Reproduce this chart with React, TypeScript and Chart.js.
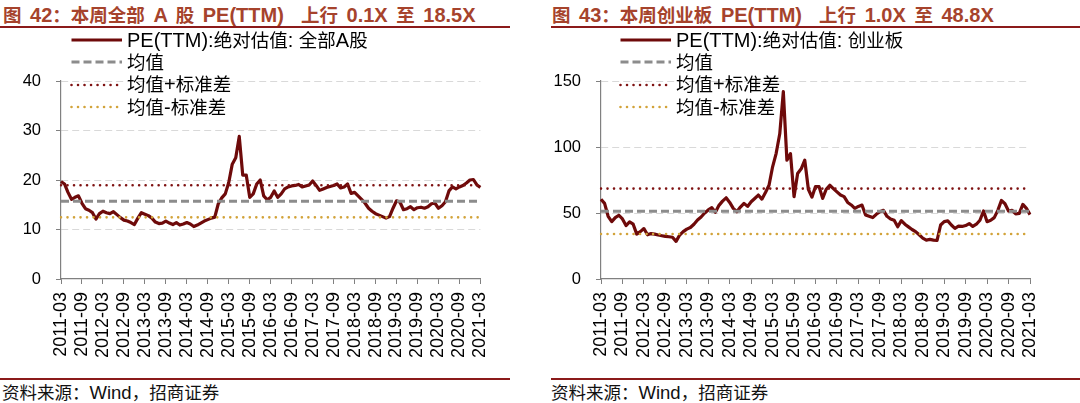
import React, { useEffect, useRef } from "react";
import { Chart, registerables } from "chart.js";

Chart.register(...registerables);

// ---------- categories (monthly, 2011-03 .. 2021-03) ----------
const START_YEAR = 2011;
const START_MONTH = 3;
const N_MONTHS = 121;
const monthLabels: string[] = Array.from({ length: N_MONTHS }, (_, i) => {
  const t = START_MONTH - 1 + i;
  const y = START_YEAR + Math.floor(t / 12);
  const m = (t % 12) + 1;
  return `${y}-${String(m).padStart(2, "0")}`;
});

const tickLabels: string[] = [
  "2011-03", "2011-09", "2012-03", "2012-09", "2013-03", "2013-09", "2014-03",
  "2014-09", "2015-03", "2015-09", "2016-03", "2016-09", "2017-03", "2017-09",
  "2018-03", "2018-09", "2019-03", "2019-09", "2020-03", "2020-09", "2021-03",
];

// ---------- 全部A股 PE(TTM) ----------
const peAllA: number[] = [
  19.7, 19.2, 17.5, 16.1, 16.5, 16.8, 15.3, 14.2, 13.9, 13.4,
  12.1, 13.2, 13.7, 13.4, 13.2, 13.6, 13.0, 12.4, 11.9, 11.7,
  11.4, 11.0, 12.3, 13.4, 13.1, 12.8, 12.3, 11.5, 11.2, 11.3,
  11.7, 11.3, 11.0, 11.4, 10.9, 11.1, 11.4, 11.1, 10.6, 10.9,
  11.3, 11.7, 12.0, 12.3, 12.5, 15.2, 16.4, 17.2, 19.5, 23.2,
  24.5, 28.8, 21.0, 21.0, 16.5, 17.2, 19.2, 20.0, 16.8, 16.0,
  16.5, 17.8, 16.5, 17.2, 18.2, 18.6, 18.8, 18.9, 19.1, 18.6,
  18.8, 19.0, 19.8, 18.9, 17.9, 18.2, 18.5, 18.7, 18.9, 19.2,
  18.4, 18.6, 19.2, 17.3, 17.5, 16.8, 16.1, 15.3, 14.3, 13.7,
  13.2, 12.9, 12.6, 12.3, 12.6, 14.3, 15.8, 15.5, 14.0, 14.2,
  14.6, 14.0, 14.4, 14.5, 14.3, 14.6, 15.2, 15.3, 14.3, 14.8,
  15.6, 17.8, 18.6, 18.2, 18.6, 18.9, 19.4, 20.0, 20.1, 19.0,
  18.5,
];
const meanAllA = 15.7;
const upperAllA = 18.95;
const lowerAllA = 12.45;

// ---------- 创业板 PE(TTM) ----------
const peGem: number[] = [
  60.4, 57.3, 47.5, 43.5, 46.5, 48.3, 45.5, 40.5, 43.2, 41.5,
  34.0, 35.9, 38.2, 33.5, 34.4, 34.0, 33.3, 32.8, 32.3, 32.0,
  31.6, 28.5, 33.3, 35.9, 37.8, 39.0, 41.5, 44.7, 47.0, 50.0,
  52.3, 54.0, 50.5, 55.8, 59.0, 61.5, 58.0, 53.5, 51.0, 54.5,
  57.3, 55.0, 58.5, 61.0, 63.6, 60.5, 65.5, 71.0, 85.0, 95.2,
  110.0, 142.0, 90.0, 95.0, 62.4, 80.0, 83.5, 90.0, 68.0, 62.0,
  70.0, 70.0, 61.1, 68.0, 71.0, 68.5, 66.0, 63.6, 62.4, 58.0,
  56.1, 53.5, 55.0, 56.0, 48.5, 47.5, 46.5, 49.0, 51.0, 52.0,
  47.5, 45.5, 44.5, 39.6, 44.2, 41.5, 39.5, 37.5, 35.9, 33.5,
  31.0, 29.5, 30.0, 29.5, 29.2, 40.9, 43.5, 44.0, 40.9, 38.4,
  40.0, 39.8, 40.5, 42.0, 39.8, 41.5, 44.5, 51.5, 43.4, 44.5,
  46.5, 52.0, 59.5, 57.0, 51.5, 52.0, 49.3, 49.7, 56.5, 53.5,
  48.8,
];
const meanGem = 51.3;
const upperGem = 68.5;
const lowerGem = 34.1;

// ---------- styles ----------
const PE_COLOR = "#6E0A0A";
const MEAN_COLOR = "#8C8C8C";
const UPPER_COLOR = "#7F1313";
const LOWER_COLOR = "#D2A33A";
const AXIS_COLOR = "#808080";
const GRID_COLOR = "#D9D9D9";
const TITLE_COLOR = "#A6432C";
const RULE_COLOR = "#8B1A1A";
const LATIN = "'Liberation Sans', Arial";
const CJK = "'Noto Sans CJK SC'";
const FONT = `${LATIN}, ${CJK}, sans-serif`;

type ChartProps = {
  left: number;
  width: number;
  padRight: number;
  values: number[];
  mean: number;
  upper: number;
  lower: number;
  yMax: number;
  yStep: number;
};

function PEChart(p: ChartProps) {
  const ref = useRef<HTMLCanvasElement | null>(null);
  useEffect(() => {
    if (!ref.current) return;
    const flat = (v: number) => monthLabels.map(() => v);
    const isTick = (i: number) => tickLabels.includes(monthLabels[i]);
    const chart = new Chart(ref.current, {
      type: "line",
      data: {
        labels: monthLabels,
        datasets: [
          {
            label: "PE",
            data: p.values,
            borderColor: PE_COLOR,
            borderWidth: 3.2,
            pointRadius: 0,
            borderJoinStyle: "round",
            tension: 0,
            order: 5,
          },
          {
            label: "mean",
            data: flat(p.mean),
            borderColor: MEAN_COLOR,
            borderWidth: 3,
            borderDash: [8, 4],
            pointRadius: 0,
            order: 3,
          },
          {
            label: "upper",
            data: flat(p.upper),
            borderColor: UPPER_COLOR,
            borderWidth: 2.6,
            borderDash: [0.01, 6.5],
            borderCapStyle: "round",
            pointRadius: 0,
            order: 2,
          },
          {
            label: "lower",
            data: flat(p.lower),
            borderColor: LOWER_COLOR,
            borderWidth: 2.6,
            borderDash: [0.01, 6.5],
            borderCapStyle: "round",
            pointRadius: 0,
            order: 1,
          },
        ],
      },
      options: {
        responsive: false,
        maintainAspectRatio: false,
        animation: false,
        events: [],
        layout: { padding: { top: 53, right: p.padRight, left: 0, bottom: 0 } },
        plugins: { legend: { display: false }, tooltip: { enabled: false } },
        scales: {
          x: {
            type: "category",
            offset: false,
            grid: {
              display: true,
              drawOnChartArea: false,
              drawTicks: true,
              tickLength: 5,
              tickColor: (ctx: any) => (isTick(ctx.index) ? AXIS_COLOR : "rgba(0,0,0,0)"),
              tickBorderDash: [],
            },
            border: { display: true, color: AXIS_COLOR, width: 1.2 },
            ticks: {
              autoSkip: false,
              maxRotation: 90,
              minRotation: 90,
              padding: 8,
              color: "#000",
              font: { family: LATIN, size: 18 },
              callback: (_v: any, i: number) => (isTick(i) ? monthLabels[i] : ""),
            },
            afterFit: (s: any) => {
              s.height = 96;
            },
          },
          y: {
            min: 0,
            max: p.yMax,
            ticks: {
              stepSize: p.yStep,
              padding: 15,
              color: "#000",
              font: { family: LATIN, size: 16.5 },
            },
            grid: {
              color: (ctx: any) => (ctx.tick && ctx.tick.value === 0 ? "rgba(0,0,0,0)" : GRID_COLOR),
              lineWidth: 1,
              tickLength: 5,
              tickColor: AXIS_COLOR,
              tickBorderDash: [],
            },
            border: { display: true, color: AXIS_COLOR, width: 1.2, dash: [7, 4] },
            afterFit: (s: any) => {
              s.width = 61;
            },
          },
        },
      },
    } as any);
    return () => chart.destroy();
  }, []);
  return (
    <canvas
      ref={ref}
      width={p.width}
      height={347}
      style={{ position: "absolute", left: p.left, top: 28, width: p.width, height: 347 }}
    />
  );
}

// split text into Latin / CJK runs so each can use its own size
function Mixed({ text, latin, cjk, bold }: { text: string; latin: number; cjk: number; bold?: boolean }) {
  const parts = text.split(/([\u3000-\u9fff\uff00-\uffef]+)/).filter((s) => s.length > 0);
  return (
    <>
      {parts.map((s, i) => {
        const isCjk = /[\u3000-\u9fff\uff00-\uffef]/.test(s);
        return (
          <span
            key={i}
            style={{
              fontFamily: isCjk ? `${CJK}, sans-serif` : `${LATIN}, sans-serif`,
              fontSize: isCjk ? cjk : latin,
              fontWeight: bold ? 700 : 400,
            }}
          >
            {s}
          </span>
        );
      })}
    </>
  );
}

function Legend({ x, label }: { x: number; label: string }) {
  const rows = [
    { text: label, color: PE_COLOR, w: 3.2, dash: "", cap: "butt" },
    { text: "均值", color: MEAN_COLOR, w: 3, dash: "8 4", cap: "butt" },
    { text: "均值+标准差", color: UPPER_COLOR, w: 2.6, dash: "0.01 6.5", cap: "round" },
    { text: "均值-标准差", color: LOWER_COLOR, w: 2.6, dash: "0.01 6.5", cap: "round" },
  ];
  return (
    <>
      {rows.map((r, i) => (
        <div
          key={i}
          style={{
            position: "absolute",
            left: x,
            top: 40 + i * 22.4 - 12,
            height: 24,
            display: "flex",
            alignItems: "center",
            whiteSpace: "nowrap",
            color: "#000",
            lineHeight: "24px",
          }}
        >
          <svg width={53} height={6} style={{ display: "block" }}>
            <line
              x1={1.5}
              y1={3}
              x2={52}
              y2={3}
              stroke={r.color}
              strokeWidth={r.w}
              strokeDasharray={r.dash || undefined}
              strokeLinecap={r.cap as any}
            />
          </svg>
          <span style={{ marginLeft: 4 }}>
            <Mixed text={r.text} latin={20} cjk={18.5} />
          </span>
        </div>
      ))}
    </>
  );
}

function Panel(props: {
  offset: number;
  ruleLeft: number;
  ruleWidth: number;
  title: string;
  legendLabel: string;
  chart: ChartProps;
}) {
  const { offset, ruleLeft, ruleWidth, title, legendLabel, chart } = props;
  return (
    <>
      <div
        style={{
          position: "absolute",
          left: offset + 3,
          top: 2,
          height: 24,
          lineHeight: "24px",
          color: TITLE_COLOR,
          whiteSpace: "pre",
          wordSpacing: 3,
        }}
      >
        <Mixed text={title} latin={20} cjk={18.5} bold />
      </div>
      <div style={{ position: "absolute", left: ruleLeft, top: 26, width: ruleWidth, height: 2, background: RULE_COLOR }} />
      <PEChart {...chart} />
      <Legend x={offset + 70} label={legendLabel} />
      <div style={{ position: "absolute", left: ruleLeft, top: 378, width: ruleWidth, height: 2, background: RULE_COLOR }} />
      <div
        style={{
          position: "absolute",
          left: offset + 2,
          top: 381,
          height: 22,
          lineHeight: "22px",
          color: "#111",
          whiteSpace: "pre",
        }}
      >
        <Mixed text="资料来源：Wind，招商证券" latin={18.5} cjk={17.5} />
      </div>
    </>
  );
}

export default function App() {
  return (
    <div
      style={{
        position: "absolute",
        left: 0,
        top: 0,
        width: 1080,
        height: 403,
        background: "#fff",
        overflow: "hidden",
        fontFamily: FONT,
      }}
    >
      <Panel
        offset={0}
        ruleLeft={0}
        ruleWidth={510}
        title="图 42：本周全部 A 股 PE(TTM)  上行 0.1X 至 18.5X"
        legendLabel="PE(TTM):绝对估值: 全部A股"
        chart={{
          left: 0,
          width: 510,
          padRight: 20,
          values: peAllA,
          mean: meanAllA,
          upper: upperAllA,
          lower: lowerAllA,
          yMax: 40,
          yStep: 10,
        }}
      />
      <Panel
        offset={549}
        ruleLeft={551}
        ruleWidth={529}
        title="图 43：本周创业板 PE(TTM)  上行 1.0X 至 48.8X"
        legendLabel="PE(TTM):绝对估值: 创业板"
        chart={{
          left: 540,
          width: 540,
          padRight: 50,
          values: peGem,
          mean: meanGem,
          upper: upperGem,
          lower: lowerGem,
          yMax: 150,
          yStep: 50,
        }}
      />
    </div>
  );
}
